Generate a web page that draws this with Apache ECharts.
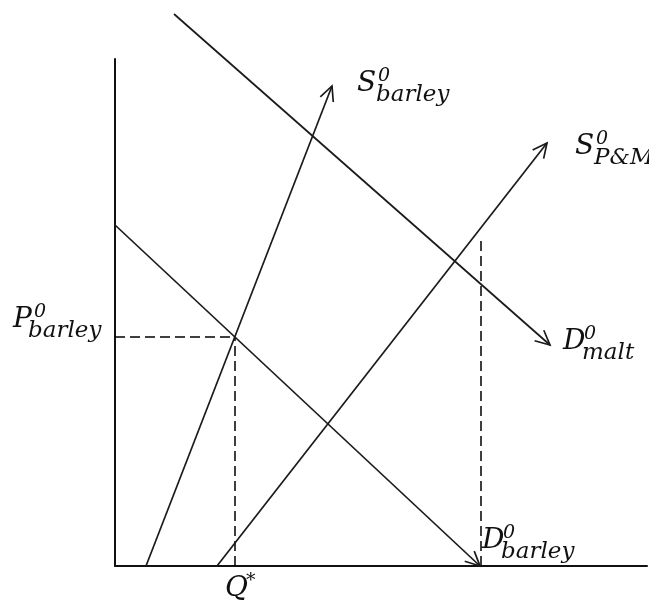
<!DOCTYPE html>
<html>
<head>
<meta charset="utf-8">
<script src="https://cdn.jsdelivr.net/npm/echarts@6/dist/echarts.min.js"></script>
<style>
html, body { margin: 0; padding: 0; background: #fff; }
#chart { width: 649px; height: 610px; }
</style>
</head>
<body>
<div id="chart"></div>
<script>
// quantity / price (origin = corner of the axes)
var dMalt = [[59, 552], [435, 221]];
var sBarley = [[31, 0], [217, 480]];
var sPM = [[102, 0], [432, 423]];
var dBarley = [[0, 341], [365, 0]];

var pStar = 229;
var qStar = 120;
var qMalt = 366;
var pMaltTop = 329;

var guideH = [[0, pStar], [qStar, pStar]];
var guideV1 = [[qStar, 0], [qStar, pStar]];
var guideV2 = [[qMalt, 0], [qMalt, pMaltTop]];

// curve labels: main letter, superscript, subscript
var labelMain = ['S', 'S', 'D', 'D', 'P', 'Q'];
var labelSup = ['0', '0', '0', '0', '0', '*'];
var labelSub = ['barley', 'P&M', 'malt', 'barley', 'barley', ''];
var labelAt = [sBarley[1], sPM[1], dMalt[1], dBarley[1], [0, pStar], [qStar, 0]];
// pixel offsets of the main letter's baseline from its anchor
var labelOff = [[25, 6], [28, 12], [13, 5], [2, -17], [-102, -9], [-10, 31]];

var chart = echarts.init(document.getElementById('chart'));

var FONT = 'DejaVu Serif, serif';
var INK = '#1a1a1a';

function curve(data) {
    return {
        type: 'line',
        data: data,
        symbol: 'none',
        clip: false,
        silent: true,
        lineStyle: { color: INK, width: 1.7 },
        z: 3
    };
}

function guide(data) {
    return {
        type: 'line',
        data: data,
        symbol: 'none',
        clip: false,
        silent: true,
        lineStyle: { color: '#000', width: 1.5, type: [10, 5] },
        z: 2
    };
}

// open arrow heads at the end of each curve
var arrowData = [
    sBarley[0].concat(sBarley[1]),
    sPM[0].concat(sPM[1]),
    dMalt[0].concat(dMalt[1]),
    dBarley[0].concat(dBarley[1])
];

function renderArrow(params, api) {
    var a = api.coord([api.value(0), api.value(1)]);
    var b = api.coord([api.value(2), api.value(3)]);
    var ang = Math.atan2(b[1] - a[1], b[0] - a[0]);
    var len = 16, spread = 0.45;
    var p1 = [b[0] - len * Math.cos(ang - spread), b[1] - len * Math.sin(ang - spread)];
    var p2 = [b[0] - len * Math.cos(ang + spread), b[1] - len * Math.sin(ang + spread)];
    return {
        type: 'polyline',
        shape: { points: [p1, b, p2] },
        style: { stroke: INK, lineWidth: 1.7, fill: null }
    };
}

var labelData = labelAt.map(function (p, i) { return [p[0], p[1], i]; });

function txt(s, x, y, size) {
    return { type: 'text', x: x, y: y, style: { text: s, font: 'italic ' + size + 'px ' + FONT, fill: '#111', verticalAlign: 'top' } };
}

function renderLabel(params, api) {
    var i = api.value(2);
    var pt = api.coord([api.value(0), api.value(1)]);
    var x = pt[0] + labelOff[i][0];
    var base = pt[1] + labelOff[i][1];
    var subX = labelMain[i] === 'P' ? 15 : 19;
    var children = [
        txt(labelMain[i], x, base - 22, 28),
        txt(labelSup[i], x + 21, base - 25, 19)
    ];
    if (labelSub[i]) {
        children.push(txt(labelSub[i], x + subX, base - 8, 23));
    }
    return { type: 'group', children: children };
}

var option = {
    animation: false,
    backgroundColor: '#fff',
    grid: { left: 115, right: 2, top: 59, bottom: 44 },
    xAxis: {
        type: 'value', min: 0, max: 532,
        axisLine: { show: true, onZero: false, lineStyle: { color: '#111', width: 2 } },
        axisTick: { show: false }, axisLabel: { show: false }, splitLine: { show: false }
    },
    yAxis: {
        type: 'value', min: 0, max: 507,
        axisLine: { show: true, onZero: false, lineStyle: { color: '#111', width: 2 } },
        axisTick: { show: false }, axisLabel: { show: false }, splitLine: { show: false }
    },
    series: [
        curve(dMalt),
        curve(sBarley),
        curve(sPM),
        curve(dBarley),
        guide(guideH),
        guide(guideV1),
        guide(guideV2),
        { type: 'custom', renderItem: renderArrow, data: arrowData, clip: false, silent: true, z: 4 },
        { type: 'custom', renderItem: renderLabel, data: labelData, clip: false, silent: true, z: 5 }
    ]
};

chart.setOption(option);
</script>
</body>
</html>
